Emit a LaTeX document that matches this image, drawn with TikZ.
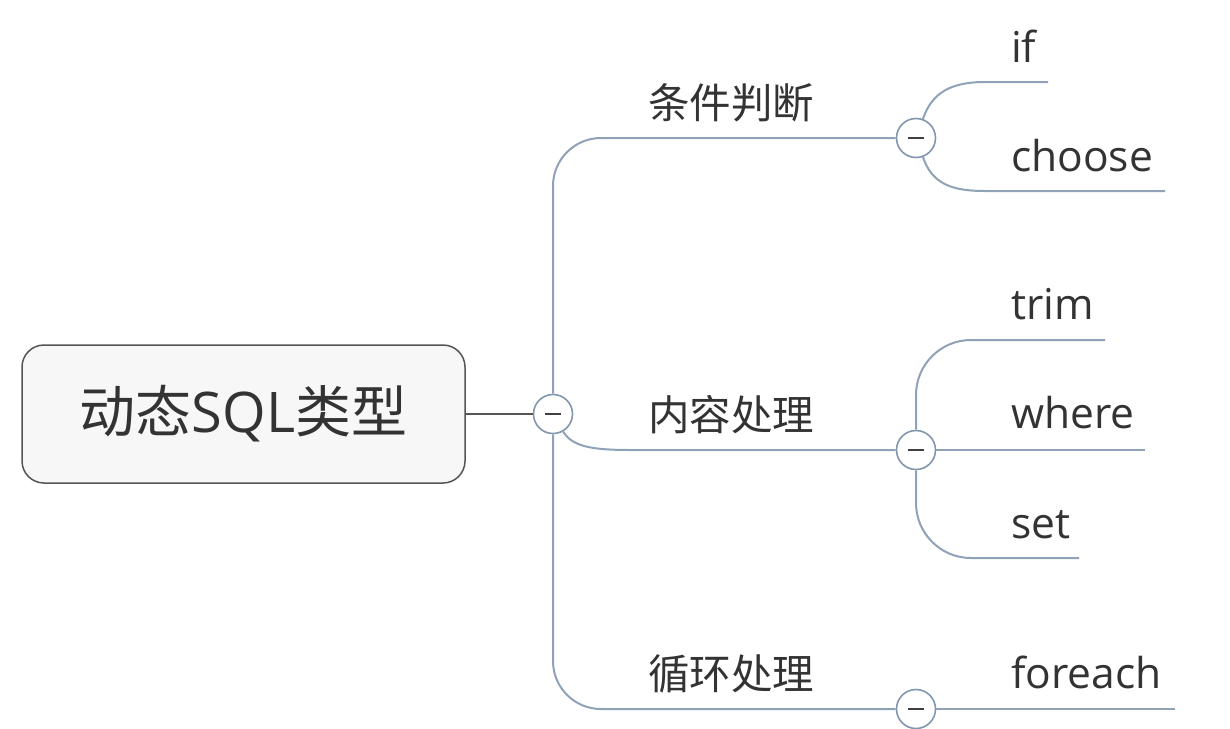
\documentclass[tikz,border=0pt]{standalone}
\usepackage{fontspec}
\setmainfont{Open Sans}
\newfontfamily\cjk{Noto Sans CJK SC}
\definecolor{branch}{HTML}{8FA2B7}
\definecolor{ring}{HTML}{8097AE}
\definecolor{txt}{HTML}{333333}
\definecolor{rootline}{HTML}{555555}
\definecolor{rootfill}{HTML}{F7F7F7}
\begin{document}
\begin{tikzpicture}[x=1pt,y=-1pt,
  br/.style={draw=branch,line width=2pt},
  toggle/.style={circle,draw=ring,line width=1.6pt,fill=white,minimum size=39pt,inner sep=0pt,
    path picture={\draw[black!75,line width=2pt]
      ([xshift=-8pt]path picture bounding box.center) -- ([xshift=8pt]path picture bounding box.center);}},
  lbl/.style={anchor=base west,inner sep=0pt,text=txt,font=\cjk\fontsize{41.5}{48}\selectfont},
  leaf/.style={anchor=base west,inner sep=0pt,text=txt,font=\fontsize{42.5}{50}\selectfont},
]
\useasboundingbox (0,0) rectangle (1230,728);
\fill[white] (0,0) rectangle (1230,728);

% root
\node[draw=rootline,line width=1.5pt,fill=rootfill,rounded corners=22pt,
  minimum width=443pt,minimum height=138pt,text=txt,
  font=\fontsize{56}{64}\selectfont] (root) at (243.5,414)
  {{\cjk 动态}SQL{\cjk 类型}};

% toggles
\node[toggle] (c0) at (553,414) {};
\node[toggle] (c1) at (916,138) {};
\node[toggle] (c2) at (916,450) {};
\node[toggle] (c3) at (916,709) {};

\draw[draw=rootline,line width=1.8pt] (root.east) -- (c0.west);

% main branches
\draw[br,rounded corners=48pt] (c0.north) |- (c1.west);
\coordinate (m2) at (630,450);
\draw[br] (c0.-60) .. controls (572,446) and (590,450) .. (m2) -- (c2.west);
\draw[br,rounded corners=48pt] (c0.south) |- (c3.west);

\node[lbl] (t1) at (648,118) {条件判断};
\node[lbl] (t2) at (648,430) {内容处理};
\node[lbl] (t3) at (648,689) {循环处理};

% leaves of c1
\coordinate (ifA) at (985,82);
\coordinate (ifB) at (1048,82);
\draw[br] (c1.70) .. controls (932,92) and (952,82) .. (ifA) -- (ifB);
\coordinate (chA) at (985,191);
\coordinate (chB) at (1165,191);
\draw[br] (c1.-70) .. controls (932,184) and (952,191) .. (chA) -- (chB);
\node[leaf] (lif) at (1011,62) {if};
\node[leaf] (lch) at (1011,171) {choose};

% leaves of c2
\coordinate (trB) at (1105,340);
\draw[br,rounded corners=55pt] (c2.north) |- (trB);
\coordinate (whB) at (1145,450);
\draw[br] (c2.east) -- (whB);
\coordinate (seB) at (1079,558);
\draw[br,rounded corners=55pt] (c2.south) |- (seB);
\node[leaf] (ltr) at (1011,319) {trim};
\node[leaf] (lwh) at (1011,428) {where};
\node[leaf] (lse) at (1011,538) {set};

% leaf of c3
\coordinate (feB) at (1175,709);
\draw[br] (c3.east) -- (feB);
\node[leaf] (lfe) at (1011,688) {foreach};
\end{tikzpicture}
\end{document}
